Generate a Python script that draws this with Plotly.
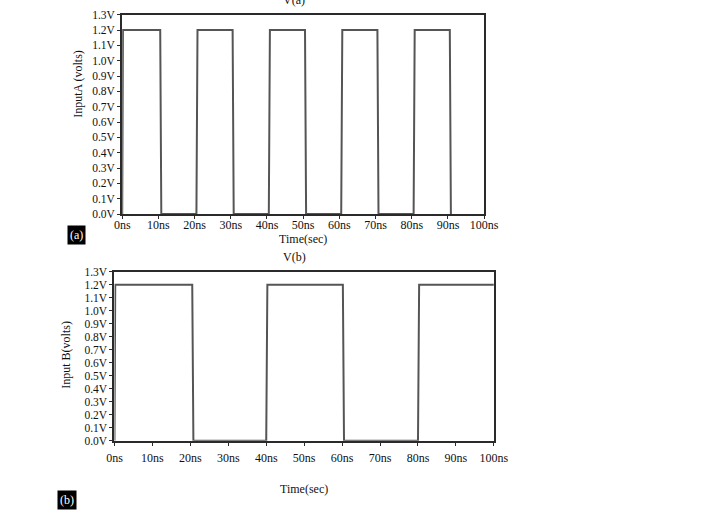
import plotly.graph_objects as go

# Waveform A: 10 ns high / 10 ns low pulses (ns, volts)
time_a = [0, 0.2, 10.5, 10.8, 20.5, 20.8, 30.5, 30.8, 40.5, 40.8, 50.5, 50.8,
          60.5, 60.8, 70.5, 70.8, 80.5, 80.8, 90.5, 90.8]
volt_a = [0, 1.2, 1.2, 0, 0, 1.2, 1.2, 0, 0, 1.2, 1.2, 0,
          0, 1.2, 1.2, 0, 0, 1.2, 1.2, 0]

# Waveform B: 20 ns high / 20 ns low pulses
time_b = [0, 0.2, 20.5, 20.8, 40.0, 40.3, 60.2, 60.5, 80.0, 80.3, 100]
volt_b = [0, 1.2, 1.2, 0, 0, 1.2, 1.2, 0, 0, 1.2, 1.2]

x_ticks = [0, 10, 20, 30, 40, 50, 60, 70, 80, 90, 100]
x_tick_labels = [f"{t}ns" for t in x_ticks]
y_ticks = [round(0.1 * i, 1) for i in range(14)]
y_tick_labels = [f"{v:.1f}V" for v in y_ticks]

W, H = 716, 515
FONT = "Liberation Serif"
AX = "#2a2a2a"
WAVE = "#555555"

def px_x(a, b):
    return [a / W, b / W]

def px_y(top, bottom):
    return [(H - bottom) / H, (H - top) / H]

fig = go.Figure()
fig.add_trace(go.Scatter(x=time_a, y=volt_a, mode="lines",
                         line=dict(color=WAVE, width=2), xaxis="x", yaxis="y",
                         showlegend=False, hoverinfo="skip", cliponaxis=True))
fig.add_trace(go.Scatter(x=time_b, y=volt_b, mode="lines",
                         line=dict(color=WAVE, width=2), xaxis="x2", yaxis="y2",
                         showlegend=False, hoverinfo="skip", cliponaxis=True))

common_x = dict(range=[0, 100], tickvals=x_ticks, ticktext=x_tick_labels,
                showline=True, linecolor=AX, linewidth=2, mirror=True,
                ticks="outside", ticklen=3, tickcolor=AX, showgrid=False,
                zeroline=False, tickfont=dict(family=FONT, size=12, color="#111"),
                title_font=dict(family=FONT, size=12, color="#111"))
common_y = dict(range=[0, 1.3], tickvals=y_ticks, ticktext=y_tick_labels,
                showline=True, linecolor=AX, linewidth=2, mirror=True,
                ticks="outside", ticklen=3, tickcolor=AX, showgrid=False,
                zeroline=False, tickfont=dict(family=FONT, size=11.5, color="#111"))

title_font = dict(family=FONT, size=12, color="#111")

fig.update_layout(
    width=W, height=H,
    margin=dict(l=0, r=0, t=0, b=0),
    paper_bgcolor="white", plot_bgcolor="white",
    xaxis=dict(common_x, domain=px_x(118, 492), anchor="y", ticklabelstandoff=-4,
               title=dict(text="Time(sec)", standoff=0)),
    yaxis=dict(common_y, domain=px_y(9, 213), anchor="x"),
    xaxis2=dict(common_x, domain=px_x(110, 502), anchor="y2", ticklabelstandoff=2,
                title=dict(text="Time(sec)", standoff=21)),
    yaxis2=dict(common_y, domain=px_y(272, 445), anchor="x2"),
    annotations=[
        dict(text="InputA (volts)", x=72 / W, y=(H - 80) / H, xref="paper", yref="paper",
             showarrow=False, textangle=-90, xanchor="center", yanchor="middle", font=title_font),
        dict(text="Input B(volts)", x=60 / W, y=(H - 357) / H, xref="paper", yref="paper",
             showarrow=False, textangle=-90, xanchor="center", yanchor="middle", font=title_font),
        dict(text="V(a)", x=296 / W, y=(H + 6) / H, xref="paper", yref="paper",
             showarrow=False, yanchor="middle", font=title_font),
        dict(text="V(b)", x=296 / W, y=(H - 257) / H, xref="paper", yref="paper",
             showarrow=False, yanchor="middle", font=title_font),
        dict(text="(a)", x=71 / W, y=(H - 234) / H, xref="paper", yref="paper",
             showarrow=False, xanchor="center", yanchor="middle", bgcolor="black",
             font=dict(family=FONT, size=12, color="white"), borderpad=2),
        dict(text="(b)", x=61 / W, y=(H - 506) / H, xref="paper", yref="paper",
             showarrow=False, xanchor="center", yanchor="middle", bgcolor="black",
             font=dict(family=FONT, size=12, color="white"), borderpad=2),
    ],
)

fig.write_html("out.html")
